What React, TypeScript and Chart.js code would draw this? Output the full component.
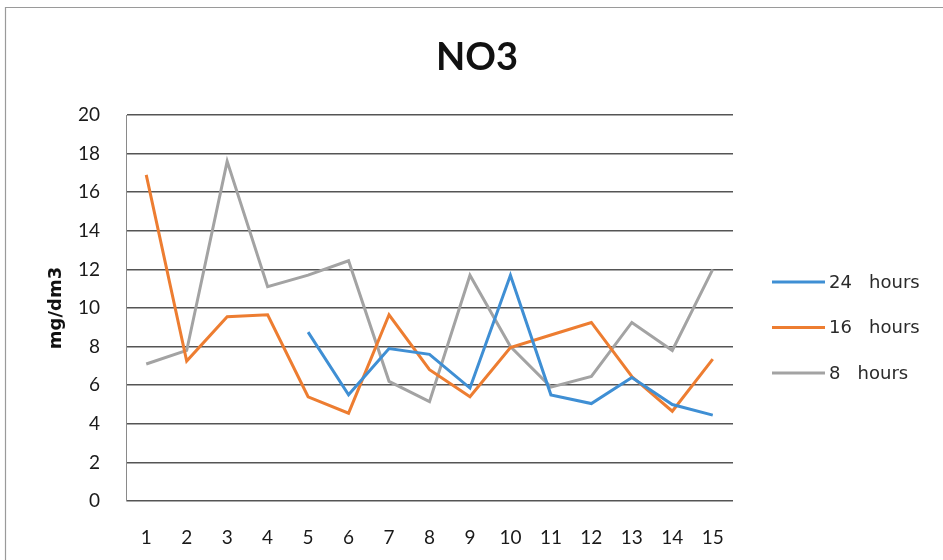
import { useEffect, useRef } from "react";
import { Chart, registerables } from "chart.js";

Chart.register(...registerables);

const categories = ["1", "2", "3", "4", "5", "6", "7", "8", "9", "10", "11", "12", "13", "14", "15"];
const hours24 = [null, null, null, null, 8.75, 5.5, 7.9, 7.6, 5.85, 11.7, 5.5, 5.05, 6.4, 5.0, 4.45];
const hours16 = [16.9, 7.25, 9.55, 9.65, 5.4, 4.55, 9.65, 6.8, 5.4, 7.95, 8.6, 9.25, 6.45, 4.65, 7.35];
const hours8 = [7.1, 7.8, 17.6, 11.1, 11.7, 12.45, 6.2, 5.15, 11.7, 8.0, 5.9, 6.45, 9.25, 7.8, 12.0];
const seriesLabels = ["24   hours", "16   hours", "8   hours"];
const seriesColors = ["#3f8fd4", "#ed7d31", "#a3a3a3"];
const yTicks = [0, 2, 4, 6, 8, 10, 12, 14, 16, 18, 20];
const chartTitle = "NO3";
const yTitle = "mg/dm3";

const FONT = "Lato, 'Open Sans', 'DejaVu Sans', sans-serif";
const WIDE_FONT = "'DejaVu Sans', Verdana, sans-serif";

const framePlugin = {
  id: "frame",
  beforeDraw(chart: any) {
    const { ctx, width, height } = chart;
    ctx.save();
    ctx.fillStyle = "#ffffff";
    ctx.fillRect(0, 0, width, height);
    ctx.strokeStyle = "#9a9a9a";
    ctx.lineWidth = 1.2;
    ctx.beginPath();
    ctx.moveTo(5.5, height + 2);
    ctx.lineTo(5.5, 7.5);
    ctx.lineTo(width + 2, 7.5);
    ctx.stroke();
    ctx.fillStyle = "#111111";
    ctx.font = `bold 38px ${FONT}`;
    ctx.textAlign = "center";
    ctx.textBaseline = "middle";
    ctx.fillText(chartTitle, 477, 58);
    ctx.restore();
  },
};

const legendPlugin = {
  id: "customLegend",
  afterDraw(chart: any) {
    const { ctx } = chart;
    const x0 = 772;
    const lineLen = 53;
    const y0 = 282;
    const step = 45.5;
    ctx.save();
    chart.data.datasets.forEach((ds: any, i: number) => {
      const y = y0 + i * step;
      ctx.strokeStyle = ds.borderColor;
      ctx.lineWidth = 3;
      ctx.beginPath();
      ctx.moveTo(x0, y);
      ctx.lineTo(x0 + lineLen, y);
      ctx.stroke();
      ctx.fillStyle = "#2a2a2a";
      ctx.font = `18px ${WIDE_FONT}`;
      ctx.textBaseline = "middle";
      ctx.textAlign = "left";
      ctx.fillText(ds.label, x0 + lineLen + 4, y + 1);
    });
    ctx.restore();
  },
};

export default function App() {
  const canvasRef = useRef<HTMLCanvasElement | null>(null);

  useEffect(() => {
    if (!canvasRef.current) return;
    const datasets = [hours24, hours16, hours8].map((data, i) => ({
      label: seriesLabels[i],
      data,
      borderColor: seriesColors[i],
      backgroundColor: seriesColors[i],
      borderWidth: 3,
      pointRadius: 0,
      pointHoverRadius: 0,
      tension: 0,
      fill: false,
      spanGaps: false,
    }));

    const chart = new Chart(canvasRef.current, {
      type: "line",
      data: { labels: categories, datasets },
      plugins: [framePlugin, legendPlugin],
      options: {
        animation: false,
        responsive: false,
        devicePixelRatio: 1,
        layout: { padding: { left: 0, right: 210, top: 115, bottom: 0 } },
        plugins: {
          legend: { display: false },
          tooltip: { enabled: false },
          title: { display: false },
        },
        scales: {
          x: {
            type: "category",
            offset: true,
            grid: { display: false, drawTicks: false },
            border: { display: false },
            ticks: {
              color: "#1a1a1a",
              font: { family: FONT, size: 19 },
              padding: 25,
              maxRotation: 0,
              autoSkip: false,
            },
            afterFit(scale: any) {
              scale.height = 59;
            },
          },
          y: {
            min: 0,
            max: 20,
            afterBuildTicks(scale: any) {
              scale.ticks = yTicks.map((v) => ({ value: v }));
            },
            grid: { color: "#555555", lineWidth: 1.5, drawTicks: false },
            border: { display: true, color: "#8a8a8a", width: 1 },
            ticks: {
              color: "#1a1a1a",
              font: { family: FONT, size: 19 },
              padding: 26,
            },
            title: {
              display: true,
              text: yTitle,
              color: "#111111",
              font: { family: WIDE_FONT, size: 18, weight: "bold" },
              padding: { top: 46, bottom: 0 },
            },
            afterFit(scale: any) {
              scale.width = 126;
            },
          },
        },
      },
    });
    return () => chart.destroy();
  }, []);

  return (
    <div style={{ position: "absolute", left: 0, top: 0, width: 943, height: 560, background: "#fff" }}>
      <canvas ref={canvasRef} width={943} height={560} style={{ width: 943, height: 560, display: "block" }} />
    </div>
  );
}
